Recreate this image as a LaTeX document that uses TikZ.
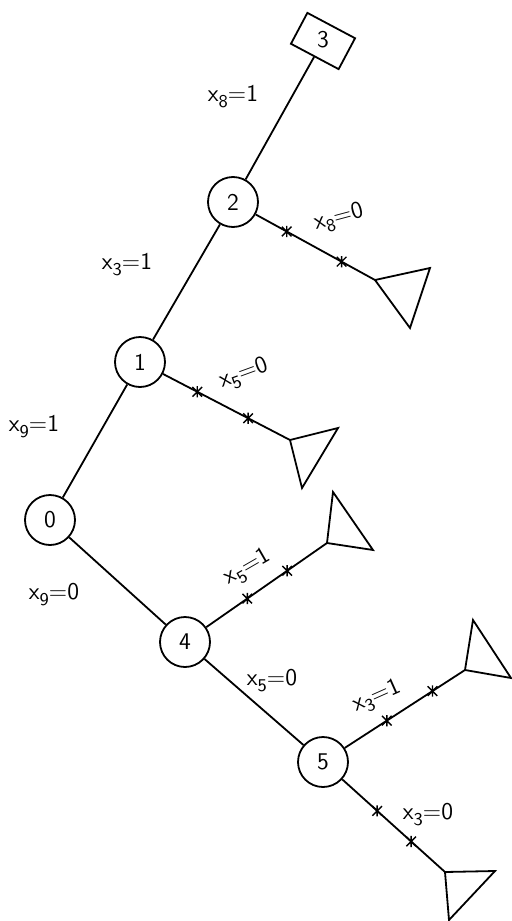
\documentclass[tikz,border=0pt]{standalone}
\newcommand{\lsub}[1]{\raisebox{-0.55ex}{\small #1}}
\tikzset{
  st/.style={draw, circle, line width=0.9pt, minimum size=25pt, inner sep=0pt, font=\sffamily\large},
  box/.style={draw, rectangle, line width=0.9pt, minimum width=27pt, minimum height=17.5pt, inner sep=0pt},
  edge/.style={line width=0.9pt},
  leaf/.style={line width=0.9pt, line join=miter},
  lbl/.style={font=\sffamily\large, inner sep=0.5pt},
  asterisk/.pic={\draw[line width=0.7pt] (-2.4pt,-2.4pt) -- (2.4pt,2.4pt) (-2.4pt,2.4pt) -- (2.4pt,-2.4pt) (0,-2.8pt) -- (0,2.8pt);},
}
\begin{document}
\begin{tikzpicture}[x=0.5pt,y=-0.5pt]
\useasboundingbox (0,0) rectangle (512,921);
\fill[white] (0,0) rectangle (512,921);
% states
\node[st] (n0) at (50,520) {0};
\node[st] (n1) at (140,362) {1};
\node[st] (n2) at (233,202) {2};
\node[box, rotate=-28] (n3) at (323,41) {};
\node[lbl] (n3t) at (323,40) {3};
\node[st] (n4) at (185,642) {4};
\node[st] (n5) at (323,762) {5};
% leaf apexes
\coordinate (t2) at (375,280);
\coordinate (t1) at (290,440);
\coordinate (t4) at (327,543);
\coordinate (t5a) at (465,670);
\coordinate (t5b) at (445,872);
% triangles
\draw[leaf] (t2) -- (430,268) -- (410,328) -- cycle;
\draw[leaf] (t1) -- (338,428) -- (302,488) -- cycle;
\draw[leaf] (t4) -- (333,492) -- (373,550) -- cycle;
\draw[leaf] (t5a) -- (473,620) -- (511,678) -- cycle;
\draw[leaf] (t5b) -- (495,871) -- (449,920) -- cycle;
% main edges
\draw[edge] (n0) -- (n1);
\draw[edge] (n1) -- (n2);
\draw[edge] (n2) -- (n3);
\draw[edge] (n0) -- (n4);
\draw[edge] (n4) -- (n5);
% leaf edges with marks
\draw[edge] (n2) -- pic[pos=0.26]{asterisk} pic[pos=0.72]{asterisk} (t2);
\draw[edge] (n1) -- pic[pos=0.27]{asterisk} pic[pos=0.67]{asterisk} (t1);
\draw[edge] (n4) -- pic[pos=0.34]{asterisk} pic[pos=0.67]{asterisk} (t4);
\draw[edge] (n5) -- pic[pos=0.35]{asterisk} pic[pos=0.73]{asterisk} (t5a);
\draw[edge] (n5) -- pic[pos=0.34]{asterisk} pic[pos=0.67]{asterisk} (t5b);
% labels
\node[lbl] (l81) at (233,97) {x\lsub{8}=1};
\node[lbl, rotate=15] (l80) at (339,218) {x\lsub{8}=0};
\node[lbl] (l31) at (127,265) {x\lsub{3}=1};
\node[lbl, rotate=20] (l50a) at (244,374) {x\lsub{5}=0};
\node[lbl] (l91) at (34,427) {x\lsub{9}=1};
\node[lbl] (l90) at (54,595) {x\lsub{9}=0};
\node[lbl, rotate=30] (l51) at (248,568) {x\lsub{5}=1};
\node[lbl] (l50b) at (272,681) {x\lsub{5}=0};
\node[lbl, rotate=24] (l31b) at (377,697) {x\lsub{3}=1};
\node[lbl] (l30) at (428,815) {x\lsub{3}=0};
\end{tikzpicture}
\end{document}
